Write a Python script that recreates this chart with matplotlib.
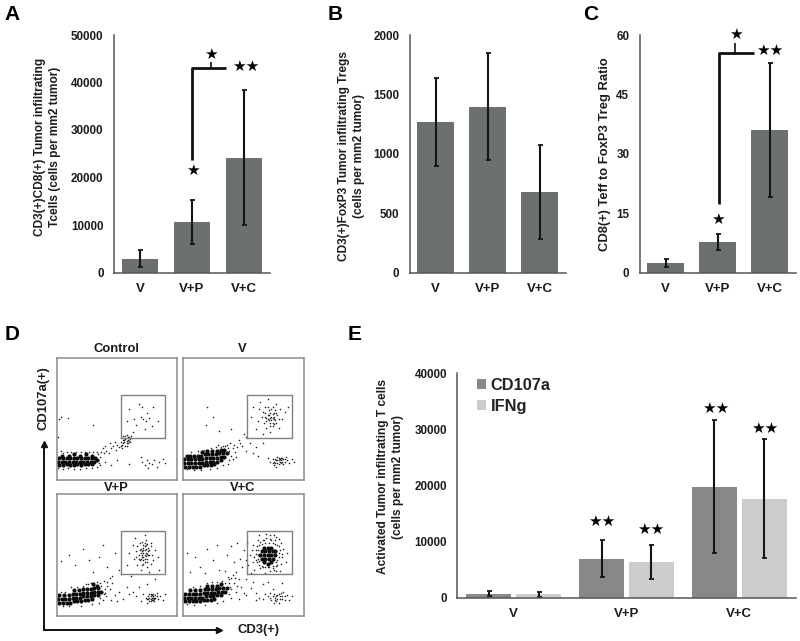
import matplotlib
matplotlib.use('Agg')
import numpy as np
import matplotlib.pyplot as plt

plt.rcParams['font.family'] = ['Liberation Sans', 'DejaVu Sans']
plt.rcParams['font.weight'] = 'bold'

W, H = 800, 641

# bar panels
groups = ['V', 'V+P', 'V+C']

a_vals = [2900, 10600, 24200]
a_low = [1200, 6100, 10000]
a_high = [4800, 15200, 38500]

b_vals = [1270, 1395, 675]
b_low = [900, 945, 285]
b_high = [1640, 1850, 1070]

c_vals = [2.3, 7.6, 36]
c_low = [1.3, 5.6, 19]
c_high = [3.4, 9.7, 53]

e_cd107a = [700, 6900, 19700]
e_cd107a_low = [300, 3650, 7900]
e_cd107a_high = [1200, 10200, 31600]
e_ifng = [600, 6300, 17600]
e_ifng_low = [200, 3400, 7100]
e_ifng_high = [1000, 9400, 28300]

# flow plots, read by eye: dense core, then the loose dots
control_core = [(2,12),(5,12),(8,13),(11,12),(14,12),(17,13),(20,12),(23,13),(26,13),(29,13),
    (1,15),(4,15),(7,15),(10,15),(13,15),(16,15),(19,15),(22,15),(25,15),(28,15),(31,15),(33,16),
    (2,18),(5,18),(8,18),(11,18),(14,18),(17,18),(20,18),(23,18),(26,18),(29,18),(32,18),
    (4,20),(10,20),(14,21),(19,20),(24,21),(29,20)]
control_dots = [(35,14),(36,19),(34,21),(37,23),(33,23),(30,23),(27,23),(23,23),(20,23),(16,23),(12,23),(8,23),(5,22),(3,24),(39,22),(41,24),(43,22),(45,26),(40,28),(38,26),(47,28),(49,25),(50,29),(52,27),(53,31),(54,29),(55,33),(56,31),(57,34),(58,30),(59,33),(60,35),(57,28),(61,31),(62,36),(58,37),(55,36),(54,26),(48,31),(44,30),
    (56,33),(58,32),(59,35),(57,36),(60,32),(58,28),(55,30),(53,28),(61,34),(59,30),
    (63,39),(70,52),(72,50),(74,48),(77,51),(75,55),(68,62),(60,58),(80,60),(66,45),(73,42),(79,44),(64,50),(71,60),(84,48),(58,48),(2,50),(3,52),(1,35),(9,51),(30,45),
    (71,15),(73,12),(75,16),(77,14),(79,13),(81,16),(83,11),(85,15),(88,17),(70,19),(76,10),(50,16),(45,12),(60,13),(40,15),(90,14),
    (1,10),(5,9),(9,10),(14,9),(19,9),(24,10),(29,10),(33,11),(36,12)]

v_core = [(2,11),(5,11),(8,11),(11,11),(14,11),(17,12),(20,12),(23,12),(26,13),
    (1,14),(4,14),(7,14),(10,14),(13,14),(16,14),(19,15),(22,15),(25,15),(28,15),(31,16),
    (1,17),(4,17),(7,17),(10,17),(13,17),(16,17),(19,18),(22,18),(25,18),(28,18),(31,19),(34,19),
    (3,20),(6,20),(9,20),(12,20),(15,20),(18,21),(21,21),(24,21),(27,21),(30,22),(33,22),(36,22),
    (16,23),(20,24),(24,24),(28,24),(31,25),(34,25)]
v_dots = [(38,16),(40,20),(38,24),(37,26),(41,26),(35,28),(31,27),(27,27),(23,26),(17,25),(12,24),(7,23),(43,23),(45,27),(42,29),(47,30),(49,28),(39,30),(37,13),(33,12),(28,10),(22,9),(15,8),(9,8),(46,33),(52,35),(50,38),(55,30),(52,24),(58,22),(3,9),(36,29),(33,28),(29,29),(44,19),(41,17),
    (73,52),(70,50),(75,55),(72,47),(68,55),(76,49),(78,53),(71,57),(74,60),(67,47),(65,52),(80,58),(69,43),(74,44),(63,58),(62,48),(77,62),(82,50),(84,56),(60,42),(72,39),(66,38),(79,43),(58,60),(56,52),(64,64),(70,66),(87,60),(71,53),(74,51),(76,57),(69,51),(73,49),(72,55),(75,46),(77,47),(68,60),
    (71,49),(74,54),(73,58),(70,53),(75,52),(72,51),(77,55),(79,50),(74,47),(69,48),(72,44),(68,52),(66,56),(70,60),(75,50),
    (72,15),(74,17),(76,14),(78,16),(80,15),(82,18),(84,15),(86,16),(79,13),(81,18),(83,13),(75,12),(78,19),(88,14),(90,17),(70,18),(85,19),(77,11),(81,14),(79,16),(83,17),(92,15),(62,20),(66,30),(60,27),(20,60),(25,52),(19,45),(30,40),(40,42),
    (77,16),(80,17),(82,15),(78,14),(76,17),(84,17),(81,16),(79,18),(75,15),(74,14)]

vp_core = [(2,11),(5,11),(8,11),(11,11),(14,12),(17,12),(20,12),(23,13),(26,13),(29,14),
    (1,14),(4,14),(7,14),(10,14),(13,15),(16,15),(19,15),(22,16),(25,16),(28,16),(31,17),(34,17),
    (2,17),(6,17),(10,17),(13,18),(16,18),(19,18),(22,19),(25,19),(28,19),(31,20),(34,20),(37,20),
    (14,21),(18,21),(22,22),(25,22),(28,22),(31,23),(34,23),(30,26),(33,25)]
vp_dots = [(36,15),(39,18),(40,22),(37,25),(36,27),(33,28),(26,26),(22,25),(17,24),(12,24),(7,20),(3,20),(40,19),(42,25),(44,22),(46,27),(39,29),(48,17),(52,20),(55,14),(58,24),(60,18),(50,12),(45,13),(35,11),(29,10),(20,8),(10,8),(5,8),(42,28),(44,31),(41,16),(38,13),(28,27),(24,26),
    (73,54),(71,50),(75,47),(72,58),(74,52),(70,55),(76,56),(72,46),(68,50),(73,44),(77,50),(69,60),(74,62),(66,53),(78,60),(71,42),(75,40),(64,47),(80,46),(67,42),(63,58),(82,54),(65,64),(73,66),(84,48),(60,52),(77,36),(70,38),(85,38),(58,42),(72,52),(74,49),(73,57),(70,47),(76,53),(71,61),(75,59),(69,46),(72,48),(78,43),(67,57),
    (72,54),(73,50),(74,55),(71,48),(75,51),(72,56),(73,47),(70,52),(76,50),(74,58),(71,53),(73,60),(72,43),(68,47),(77,54),(69,54),(75,44),(78,57),(66,48),(79,50),
    (74,15),(76,14),(78,16),(80,15),(82,17),(84,14),(79,13),(77,18),(81,12),(75,11),(83,19),(86,16),(72,18),(88,13),(70,12),(79,15),(80,18),(78,12),(81,15),(66,16),(63,20),(90,18),(68,24),(75,26),(82,30),(62,33),
    (77,15),(79,17),(81,14),(78,14),(76,16),(80,13),(82,15),(75,14),(83,16),(77,12),(80,16),(78,18),
    (10,50),(15,42),(22,55),(27,46),(30,36),(35,48),(42,40),(48,52),(38,58),(46,33),(3,45),(52,38)]

vc_core = [(2,12),(5,12),(8,12),(11,12),(14,12),(17,13),(20,13),(23,13),(26,14),
    (1,15),(4,15),(7,15),(10,15),(13,15),(16,15),(19,16),(22,16),(25,16),(28,17),(31,17),
    (2,18),(5,18),(8,18),(11,18),(14,18),(17,19),(20,19),(23,19),(26,19),(29,20),(32,20),(35,20),
    (6,21),(10,21),(14,21),(18,22),(21,22),(24,22),(27,22),(30,23),(33,23),(36,23),
    (20,25),(24,25),(28,25),(31,26),
    (67,44),(70,43),(73,44),(65,47),(68,47),(71,47),(74,47),(64,50),(67,50),(70,50),(73,50),(76,50),
    (65,53),(68,53),(71,53),(74,53),(76,53),(67,56),(70,56),(73,56)]
vc_dots = [(38,18),(39,24),(38,27),(35,27),(32,29),(28,28),(24,28),(20,27),(14,25),(8,24),(40,22),(42,27),(44,20),(46,30),(40,31),(48,24),(50,19),(37,32),(44,36),(35,37),(33,12),(28,11),(18,9),(9,9),(52,17),(56,23),(60,19),(46,14),(43,31),(41,34),(38,30),(45,25),(40,15),(3,10),
    (60,54),(62,47),(63,42),(63,58),(78,46),(79,52),(78,58),(76,62),(72,63),(67,62),(62,62),(59,48),(66,40),(72,37),(77,41),(82,48),(83,55),(81,60),(75,66),(69,67),(58,58),(55,50),(54,42),(59,38),(68,35),(80,37),(85,44),(86,52),(63,66),(56,35),(52,46),(49,40),(50,54),(47,47),(53,60),(61,44),(64,39),(81,43),(79,63),(74,39),(70,40),(77,37),
    (62,50),(61,57),(63,45),(65,41),(68,40),(71,40),(74,41),(77,44),(79,48),(80,54),(79,57),(76,59),(74,60),(71,60),(68,60),(65,59),(62,54),(60,51),(69,64),(73,62),(66,62),(64,61),(60,46),(78,42),(75,38),(82,51),(58,44),(57,54),(72,66),(77,65),
    (66,14),(70,16),(73,13),(76,15),(78,17),(80,14),(82,16),(84,13),(79,11),(75,18),(72,19),(68,18),(86,17),(88,13),(77,12),(81,19),(63,15),(60,13),(83,20),(90,16),(74,22),(66,26),(70,28),(82,27),(58,28),(52,30),
    (78,14),(80,16),(76,13),(74,16),(82,14),(79,18),(77,16),(72,15),(84,16),(75,11),
    (10,48),(14,40),(20,55),(25,46),(30,38),(36,50),(42,44),(28,58),(18,35),(6,36),(45,60),(40,57),(3,52)]

flow_panels = [
    ('Control', 57, 358, 177, 480, control_core, control_dots),
    ('V', 183, 358, 304, 480, v_core, v_dots),
    ('V+P', 57, 494, 177, 616, vp_core, vp_dots),
    ('V+C', 183, 494, 304, 616, vc_core, vc_dots),
]

BAR = '#6c716e'
AXIS = '#555555'
INK = '#1c1c1c'

fig = plt.figure(figsize=(W / 100, H / 100), dpi=100)


def px_axes(left, top, right, bottom):
    return fig.add_axes([left / W, 1 - bottom / H, (right - left) / W, (bottom - top) / H])


def px_text(x, y, s, **kw):
    kw.setdefault('ha', 'center')
    kw.setdefault('va', 'center')
    kw.setdefault('color', INK)
    fig.text(x / W, 1 - y / H, s, **kw)


def px_line(xs, ys, lw=2):
    fig.add_artist(plt.Line2D([x / W for x in xs], [1 - y / H for y in ys], color='#111111', lw=lw, solid_capstyle='butt'))


def style_axes(ax, ymax, step):
    ax.set_ylim(0, ymax)
    ax.set_yticks(np.arange(0, ymax + 1, step))
    ax.set_xlim(-0.5, 2.5)
    ax.set_xticks(range(3))
    ax.set_xticklabels(groups, fontsize=9.5)
    ax.spines[['top', 'right']].set_visible(False)
    ax.spines[['left', 'bottom']].set_color(AXIS)
    ax.spines[['left', 'bottom']].set_linewidth(1.1)
    ax.tick_params(axis='both', length=0, labelcolor=INK)
    ax.tick_params(axis='y', pad=7.5, labelsize=8.4)
    ax.tick_params(axis='x', pad=7.5)


def err_bars(ax, xs, vals, low, high):
    vals = np.array(vals)
    yerr = [vals - np.array(low), np.array(high) - vals]
    ax.errorbar(xs, vals, yerr=yerr, fmt='none', ecolor='#151515', elinewidth=1.5, capsize=1.8, capthick=1.3)


def bar_panel(left, vals, low, high, ymax, step):
    ax = px_axes(left, 35, left + 156, 272.5)
    ax.bar(range(3), vals, width=0.71, color=BAR)
    err_bars(ax, range(3), vals, low, high)
    style_axes(ax, ymax, step)
    return ax


# panels A, B, C
bar_panel(114, a_vals, a_low, a_high, 50000, 10000)
bar_panel(409.7, b_vals, b_low, b_high, 2000, 500)
bar_panel(639.7, c_vals, c_low, c_high, 60, 15)

for x, s in [(12, 'A'), (335, 'B'), (591, 'C'), (12, 'D'), (355, 'E')]:
    y = 334 if s in 'DE' else 14
    px_text(x, y, s, fontsize=15, color='black')

px_text(40, 147, 'CD3(+)CD8(+) Tumor infiltrating', rotation=90, fontsize=8.6)
px_text(55, 147, 'Tcells (cells per mm2 tumor)', rotation=90, fontsize=8.6)
px_text(344, 156, 'CD3(+)FoxP3 Tumor infiltrating Tregs', rotation=90, fontsize=8.6)
px_text(359, 156, '(cells per mm2 tumor)', rotation=90, fontsize=8.6)
px_text(605, 154, 'CD8(+) Teff to FoxP3 Treg Ratio', rotation=90, fontsize=9.4)

# significance brackets
px_line([191.7, 191.7], [160, 68])
px_line([190.7, 226], [68, 68])
px_line([210.7, 210.7], [68, 62], lw=1.2)
px_line([718.7, 718.7], [204, 53])
px_line([717.7, 754], [53, 53])
px_line([735, 735], [53, 43], lw=1.2)

for x, y, s in [(211, 54, '★'), (193, 170, '★'), (246, 66, '★★'),
                (736, 34, '★'), (718, 219, '★'), (770, 50, '★★'),
                (602, 521, '★★'), (651, 529, '★★'), (716, 408, '★★'), (765, 428, '★★')]:
    px_text(x, y, s, fontsize=11, color='black', family='DejaVu Sans')

# panel E
ax_e = px_axes(457.3, 373.3, 795.7, 597.7)
x = np.arange(3)
b1 = ax_e.bar(x - 0.22, e_cd107a, width=0.4, color='#888888', label='CD107a')
b2 = ax_e.bar(x + 0.22, e_ifng, width=0.4, color='#cccccc', label='IFNg')
err_bars(ax_e, x - 0.22, e_cd107a, e_cd107a_low, e_cd107a_high)
err_bars(ax_e, x + 0.22, e_ifng, e_ifng_low, e_ifng_high)
style_axes(ax_e, 40000, 10000)
ax_e.legend(handles=[b1, b2], loc='upper left', bbox_to_anchor=(0.058, 0.98), frameon=False, fontsize=11.8,
            handlelength=0.55, handleheight=0.55, handletextpad=0.3, labelspacing=0.35, borderpad=0, borderaxespad=0,
            labelcolor='#222222')
px_text(383, 477, 'Activated Tumor infiltrating T cells', rotation=90, fontsize=8.6)
px_text(398, 477, '(cells per mm2 tumor)', rotation=90, fontsize=8.6)

# panel D
for title, left, top, right, bottom, core, dots in flow_panels:
    ax = px_axes(left, top, right, bottom)
    ax.set_xlim(0, 100)
    ax.set_ylim(0, 100)
    ax.set_xticks([])
    ax.set_yticks([])
    for side in ax.spines.values():
        side.set_color('#8a8a8a')
        side.set_linewidth(1.1)
    core = np.array(core)
    dots = np.array(dots)
    ax.scatter(core[:, 0], core[:, 1], s=9, color='#0c0c0c', linewidths=0)
    ax.scatter(dots[:, 0], dots[:, 1], s=1.3, color='#222222', linewidths=0)
    ax.plot([53.3, 90, 90, 53.3, 53.3], [34.5, 34.5, 69.3, 69.3, 34.5], color='#808080', lw=1)
    px_text((left + right) / 2 - 1, top - 9 if top < 400 else top - 6, title, fontsize=9.4)

# axis arrows of panel D
fig.add_artist(plt.Line2D([44 / W, 44 / W], [1 - 630 / H, 1 - 446 / H], color='#111111', lw=1.4))
fig.add_artist(plt.Line2D([44 / W, 218 / W], [1 - 630 / H, 1 - 630 / H], color='#111111', lw=1.4))
fig.add_artist(plt.Line2D([44 / W], [1 - 444 / H], marker='^', color='#111111', ms=5))
fig.add_artist(plt.Line2D([219 / W], [1 - 630 / H], marker='>', color='#111111', ms=5))
px_text(44, 398, 'CD107a(+)', rotation=90, fontsize=9.4)
px_text(259, 630, 'CD3(+)', fontsize=9.4)

fig.savefig('out.png', dpi=100)
